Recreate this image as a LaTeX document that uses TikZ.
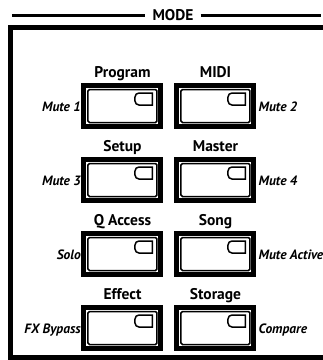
\documentclass[tikz,border=0pt]{standalone}
\usepackage{fontspec}
\setmainfont{PT Sans}
\usetikzlibrary{positioning}

\begin{document}
\begin{tikzpicture}[x=1pt, y=-1pt]
    % Define styles
    \tikzstyle{frame} = [line width=5pt, line join=miter]
    \tikzstyle{rule} = [line width=3pt]
    \tikzstyle{button} = [rectangle, minimum width=77pt, minimum height=41pt, line width=5pt, draw=black, fill=white]
    \tikzstyle{inner} = [line width=1.5pt, rounded corners=1.5pt]
    \tikzstyle{led} = [line width=1.5pt]
    \tikzstyle{title} = [font=\fontsize{15.5}{17}\selectfont\bfseries, inner sep=0pt]
    \tikzstyle{side} = [font=\fontsize{13.5}{15}\selectfont\bfseries\itshape, inner sep=0pt]

    \useasboundingbox (0,0) rectangle (323,360);

    % Frame and heading
    \draw [frame] (330,27.5) -- (10.5,27.5) -- (10.5,357) -- (330,357);
    \node (mode) [title, inner xsep=7pt, anchor=base] at (173,20) {MODE};
    \coordinate (ruleleft) at (12,15.5);
    \coordinate (ruleright) at (321,15.5);
    \draw [rule] (ruleleft) -- (ruleleft -| mode.west);
    \draw [rule] (ruleright -| mode.east) -- (ruleright);

    % Nodes
    \node (program) [button] at (122.5,106) {};
    \node (midi) [button, right=11pt of program] {};
    \node (setup) [button, below=28pt of program] {};
    \node (master) [button, right=11pt of setup] {};
    \node (qaccess) [button, below=28pt of setup] {};
    \node (song) [button, right=11pt of qaccess] {};
    \node (effect) [button, below=28pt of qaccess] {};
    \node (storage) [button, right=11pt of effect] {};

    % Button faces and LEDs
    \foreach \b in {program, midi, setup, master, qaccess, song, effect, storage} {
        \begin{scope}[shift={(\b.center)}]
            \draw [inner] (-34.5,-16.5) rectangle (34.5,16.5);
            \draw [led] (30,-13) -- (30,-1) -- (16.5,-1) arc[start angle=90, end angle=180, radius=4]
                -- (12.5,-9) arc[start angle=180, end angle=270, radius=4] -- cycle;
        \end{scope}
    }

    % Labels
    \node (programtxt) [title, above=5.5pt of program.north, anchor=base] {Program};
    \node (miditxt) [title, above=5.5pt of midi.north, anchor=base] {MIDI};
    \node (setuptxt) [title, above=5.5pt of setup.north, anchor=base] {Setup};
    \node (mastertxt) [title, above=5.5pt of master.north, anchor=base] {Master};
    \node (qaccesstxt) [title, above=5.5pt of qaccess.north, anchor=base] {Q Access};
    \node (songtxt) [title, above=5.5pt of song.north, anchor=base] {Song};
    \node (effecttxt) [title, above=5.5pt of effect.north, anchor=base] {Effect};
    \node (storagetxt) [title, above=5.5pt of storage.north, anchor=base] {Storage};

    \node (mute1) [side, left=0.5pt of program.west, anchor=base east, yshift=-5pt] {Mute 1};
    \node (mute2) [side, right=2pt of midi.east, anchor=base west, yshift=-5pt] {Mute 2};
    \node (mute3) [side, left=0.5pt of setup.west, anchor=base east, yshift=-5pt] {Mute 3};
    \node (mute4) [side, right=2pt of master.east, anchor=base west, yshift=-5pt] {Mute 4};
    \node (solo) [side, left=0.5pt of qaccess.west, anchor=base east, yshift=-5pt] {Solo};
    \node (muteactive) [side, right=2pt of song.east, anchor=base west, yshift=-5pt] {Mute Active};
    \node (fxbypass) [side, left=0.5pt of effect.west, anchor=base east, yshift=-5pt] {FX Bypass};
    \node (compare) [side, right=2pt of storage.east, anchor=base west, yshift=-5pt] {Compare};
\end{tikzpicture}
\end{document}
